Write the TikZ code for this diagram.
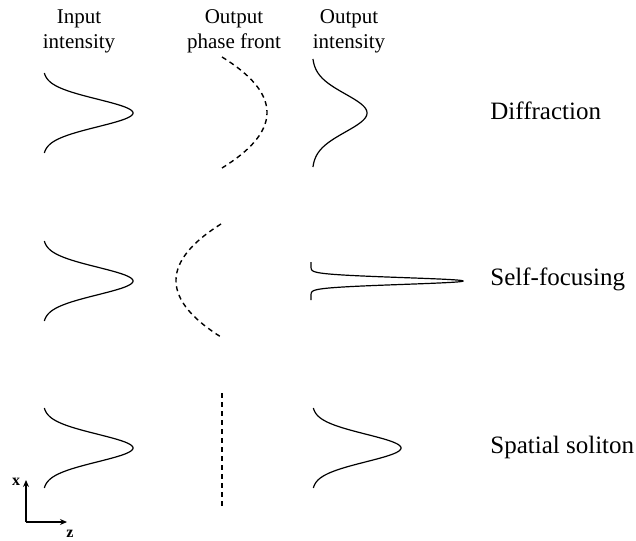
\documentclass[tikz,border=0pt]{standalone}
\usepackage{fontspec}
\setmainfont{Liberation Serif}
\usetikzlibrary{arrows.meta}

\begin{document}
\begin{tikzpicture}[x=0.5pt,y=-0.5pt,
  head/.style={align=center,font=\fontsize{10.5}{12.5}\selectfont,inner sep=0pt},
  lab/.style={anchor=west,font=\fontsize{12.5}{15}\selectfont,inner sep=0pt},
  axlab/.style={font=\fontsize{8}{9}\selectfont\bfseries,inner sep=0pt},
  prof/.style={line width=0.6pt,samples=121,smooth},
  front/.style={line width=0.7pt,dash pattern=on 2.5pt off 2pt},
  axis/.style={-{Stealth[length=3.5pt,width=3pt]},line width=0.7pt}]
\useasboundingbox (0,0) rectangle (636,540);
% column headings
\node[head] (hin) at (79,31) {Input\\intensity};
\node[head] (hph) at (234,31) {Output\\phase front};
\node[head] (hout) at (349,31) {Output\\intensity};
% input beams
\foreach \yc in {113,281,448}
  \draw[prof] plot[domain=-40:40] ({43+90*exp(-(\x)^2/(2*13.8^2))},{\yc+\x});
% diffraction
\draw[front] plot[domain=-55.5:55.5,samples=60,smooth] ({267-45*(\x/55.5)^2},{112.5+\x});
\draw[prof] plot[domain=-54:54] ({312+55*exp(-(\x)^2/(2*19^2))},{113+\x});
\node[lab] (diff) at (490,111) {Diffraction};
% self-focusing
\draw[front] plot[domain=-56.5:56.5,samples=60,smooth] ({176+45*(\x/56.5)^2},{280.5+\x});
\draw[prof,samples=241] plot[domain=-19:19] ({311+152*exp(-(\x)^2/(2*3.4^2))},{281+\x});
\node[lab] (self) at (490,279) {Self-focusing};
% spatial soliton
\draw[front,line width=0.9pt] (222,393) -- (222,506);
\draw[prof] plot[domain=-40:40] ({312+89*exp(-(\x)^2/(2*13.8^2))},{448+\x});
\node[lab] (sol) at (490,447) {Spatial soliton};
% axes
\coordinate (o) at (26,522);
\coordinate (xt) at (26,480);
\coordinate (zt) at (67,522);
\draw[axis] (o) -- (xt);
\draw[axis] (o) -- (zt);
\node[axlab] (xl) at (16,482) {x};
\node[axlab] (zl) at (70,534) {z};
\end{tikzpicture}
\end{document}
